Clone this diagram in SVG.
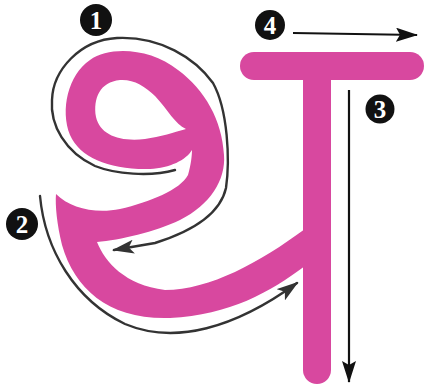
<svg xmlns="http://www.w3.org/2000/svg" width="426" height="392" viewBox="0 0 426 392">
<defs>
<style>
.ink{fill:#d8489f}
.ln{fill:none;stroke:#333;stroke-width:2.4;stroke-linecap:round}
.ln2{fill:none;stroke:#111;stroke-width:2.2}
.badge circle{fill:#111}
.badge text{fill:#fff;font-family:"Liberation Serif",serif;font-weight:bold;font-size:25px;text-anchor:middle}
</style>
<marker id="ah" viewBox="0 0 22 14" refX="20" refY="7" markerWidth="22" markerHeight="14" markerUnits="userSpaceOnUse" orient="auto">
<path d="M0,0 L22,7 L0,14 L5,7 Z" fill="#333"/>
</marker>
<marker id="ahb" viewBox="0 0 22 14" refX="21" refY="7" markerWidth="22" markerHeight="14" markerUnits="userSpaceOnUse" orient="auto">
<path d="M0,0 L22,7 L0,14 L4,7 Z" fill="#111"/>
</marker>
</defs>
<g id="letter-left">
<path class="ink" fill-rule="evenodd" d="M56,194 C70,208 95,214 120,209 C150,202 180,190 188,175 C191,165 192,155 192,150 C186,160 170,168 150,169 C110,170 80,158 70,135 C60,110 68,75 90,60 C110,46 150,48 178,70 C205,90 222,120 224,155 C226,180 210,205 180,220 C155,232 120,240 97,242 C105,262 125,285 165,290 C210,290 260,262 305,229 L305,266 C270,292 230,315 170,318 C110,320 75,290 62,245 C57,225 55,205 56,194 Z M120,80 C100,82 93,98 96,117 C100,135 120,142 145,139 C160,137 175,132 186,129 C175,124 168,110 155,96 C145,86 133,79 120,80 Z"/>
</g>
<g id="stem"><rect class="ink" x="303" y="60" width="28" height="324" rx="14"/></g>
<g id="bar"><rect class="ink" x="240" y="52" width="184" height="28" rx="14"/></g>
<g id="connectors">
<path id="arrow1" class="ln" marker-end="url(#ah)" d="M175,170 C150,177 115,174 95,166 C65,152 50,125 52,100 C53,70 80,40 117,38 C160,36 195,58 213,83 C228,110 230,160 226,188 C220,215 190,232 155,243 L114,250"/>
<path id="arrow2" class="ln" marker-end="url(#ah)" d="M40,196 C45,250 75,300 125,324 C175,345 235,328 297,283"/>
<path id="arrow3" class="ln2" marker-end="url(#ahb)" d="M349,90 L349,382"/>
<path id="arrow4" class="ln2" marker-end="url(#ahb)" d="M293,33 L417,35"/>
</g>
<g id="badge1" class="badge"><circle cx="96" cy="20" r="16"/><text x="96" y="29">1</text></g>
<g id="badge2" class="badge"><circle cx="22" cy="224" r="16"/><text x="22" y="233">2</text></g>
<g id="badge3" class="badge"><circle cx="380" cy="109" r="14.5"/><text x="380" y="118">3</text></g>
<g id="badge4" class="badge"><circle cx="270" cy="25" r="15"/><text x="270" y="34">4</text></g>
</svg>
